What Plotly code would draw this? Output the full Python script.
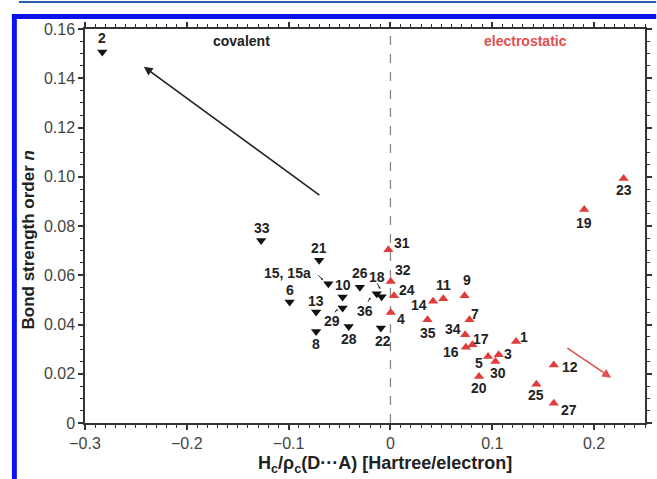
import plotly.graph_objects as go

# ---------------- data ----------------
cov_labels = ["2", "33", "21", "15, 15a", "6", "13", "8", "10", "29", "26", "28", "18", "36", "22"]
cov_x = [-0.283, -0.127, -0.070, -0.061, -0.099, -0.073, -0.073, -0.047, -0.047, -0.030, -0.041, -0.0135, -0.0087, -0.0094]
cov_y = [0.1507, 0.0741, 0.0661, 0.0565, 0.0491, 0.0451, 0.0372, 0.0512, 0.0467, 0.0551, 0.0392, 0.0525, 0.0513, 0.0386]

ele_labels = ["31", "32", "24", "4", "14", "11", "9", "7", "35", "34", "17", "16", "1", "5", "3", "30", "20", "12", "25", "27", "19", "23"]
ele_x = [-0.002, 0.0003, 0.0035, 0.0003, 0.0419, 0.0519, 0.0728, 0.0776, 0.0364, 0.0734, 0.0805, 0.0741, 0.1234, 0.0959, 0.1063, 0.1031, 0.0870, 0.1604, 0.1433, 0.1604, 0.1903, 0.2290]
ele_y = [0.0704, 0.0575, 0.0517, 0.0449, 0.0494, 0.0505, 0.0517, 0.0419, 0.0419, 0.0358, 0.0318, 0.0308, 0.0331, 0.0270, 0.0277, 0.0250, 0.0189, 0.0236, 0.0157, 0.0080, 0.0867, 0.0993]

x_ticks = [-0.3, -0.2, -0.1, 0, 0.1, 0.2]
x_ticktext = ["\u22120.3", "\u22120.2", "\u22120.1", "0", "0.1", "0.2"]
y_ticks = [0, 0.02, 0.04, 0.06, 0.08, 0.10, 0.12, 0.14, 0.16]
y_ticktext = ["0", "0.02", "0.04", "0.06", "0.08", "0.10", "0.12", "0.14", "0.16"]

# trend arrows (tail -> head), data units
cov_arrow_tail = (-0.0683, 0.0921)
cov_arrow_head = (-0.2422, 0.1447)
ele_arrow_tail = (0.1723, 0.0308)
ele_arrow_head = (0.2167, 0.0184)

# small pointer arrows (tail -> head), data units
small_arrows = [
    ((-0.0722, 0.0606), (-0.0662, 0.0580)),
    ((-0.0560, 0.0443), (-0.0518, 0.0463)),
    ((-0.0138, 0.0573), (-0.0100, 0.0544)),
    ((-0.0230, 0.0487), (-0.0196, 0.0510)),
]

# ---------------- label offsets (pixels: dx right, dy down) ----------------
label_offsets = {
    "2": (0, -14), "33": (1, -13), "21": (0, -12), "15, 15a": (-41, -11), "6": (0, -12),
    "13": (0, -11), "8": (0, 13), "10": (0, -12), "29": (-11, 13), "26": (0, -14),
    "28": (0, 13), "18": (0, -17), "36": (-17, 14), "22": (2, 13),
    "31": (14, -7), "32": (12, -11), "24": (13, -6), "4": (10, 7), "14": (-14, 4),
    "11": (0, -14), "9": (2, -16), "7": (6, -6), "35": (0, 13), "34": (-12, -6),
    "17": (9, -6), "16": (-15, 5), "1": (8, -4), "5": (-9, 6), "3": (9, -1),
    "30": (3, 12), "20": (0, 12), "12": (16, 2), "25": (0, 11), "27": (15, 7),
    "19": (0, 13), "23": (0, 12),
}

FONT = "Liberation Sans, Arial, Helvetica, sans-serif"
RED = "#e23b3b"
BLACK = "#111111"
AX = "#333333"

fig = go.Figure()
fig.add_trace(go.Scatter(
    x=cov_x, y=cov_y, mode="markers",
    marker=dict(symbol="triangle-down", size=9, color=BLACK),
    showlegend=False, hoverinfo="skip"))
fig.add_trace(go.Scatter(
    x=ele_x, y=ele_y, mode="markers",
    marker=dict(symbol="triangle-up", size=9, color=RED),
    showlegend=False, hoverinfo="skip"))

annotations = []
for labs, xs, ys in ((cov_labels, cov_x, cov_y), (ele_labels, ele_x, ele_y)):
    for lab, xv, yv in zip(labs, xs, ys):
        dx, dy = label_offsets[lab]
        annotations.append(dict(
            x=xv, y=yv, xref="x", yref="y", text="<b>%s</b>" % lab, showarrow=False,
            xshift=dx, yshift=-dy, font=dict(family=FONT, size=14, color="#222222")))

annotations.append(dict(
    x=cov_arrow_head[0], y=cov_arrow_head[1], ax=cov_arrow_tail[0], ay=cov_arrow_tail[1],
    xref="x", yref="y", axref="x", ayref="y", text="", showarrow=True,
    arrowhead=2, arrowsize=1.1, arrowwidth=1.6, arrowcolor="#222222"))
annotations.append(dict(
    x=ele_arrow_head[0], y=ele_arrow_head[1], ax=ele_arrow_tail[0], ay=ele_arrow_tail[1],
    xref="x", yref="y", axref="x", ayref="y", text="", showarrow=True,
    arrowhead=2, arrowsize=1.1, arrowwidth=1.6, arrowcolor="#e05050"))
for (tx, ty), (hx, hy) in small_arrows:
    annotations.append(dict(
        x=hx, y=hy, ax=tx, ay=ty, xref="x", yref="y", axref="x", ayref="y",
        text="", showarrow=True, arrowhead=2, arrowsize=0.45, arrowwidth=1,
        arrowcolor="#222222"))

annotations.append(dict(
    x=-0.1459, y=0.155, xref="x", yref="y", text="<b>covalent</b>", showarrow=False,
    font=dict(family=FONT, size=14, color="#222222")))
annotations.append(dict(
    x=0.133, y=0.155, xref="x", yref="y", text="<b>electrostatic</b>", showarrow=False,
    font=dict(family=FONT, size=14, color="#e05050")))

# axis titles
annotations.append(dict(
    x=0.536, y=-0.106, xref="paper", yref="paper", xanchor="center", yanchor="middle",
    text="<b>H<sub>c</sub>/\u03c1<sub>c</sub>(D\u00b7\u00b7\u00b7A) [Hartree/electron]</b>",
    showarrow=False, font=dict(family=FONT, size=18, color="#222222")))
annotations.append(dict(
    x=-0.1005, y=0.465, xref="paper", yref="paper", xanchor="center", yanchor="middle",
    text="<b>Bond strength order <i>n</i></b>", textangle=-90,
    showarrow=False, font=dict(family=FONT, size=17, color="#222222")))

shapes = [
    dict(type="line", xref="x", yref="y", x0=0, x1=0, y0=0, y1=0.16,
         line=dict(color="#888888", width=1.3, dash="dash"), layer="below"),
    # decorative page frame
    dict(type="rect", xref="paper", yref="paper", x0=-0.1305, x1=1.02, y0=1.0254, y1=1.0381,
         fillcolor="#0a10f0", line=dict(width=0)),
    dict(type="rect", xref="paper", yref="paper", x0=-0.1305, x1=-0.1217, y0=-0.16, y1=1.0381,
         fillcolor="#0a10f0", line=dict(width=0)),
    dict(type="rect", xref="paper", yref="paper", x0=-0.118, x1=1.02, y0=1.066, y1=1.0712,
         fillcolor="#2a5fb0", line=dict(width=0)),
]

axis_common = dict(
    showline=True, linecolor=AX, linewidth=1.5, mirror="ticks",
    ticks="outside", ticklen=5, tickwidth=1.5, tickcolor=AX,
    showgrid=False, zeroline=False,
    tickfont=dict(family=FONT, size=16, color="#444444"),
)

fig.update_layout(
    width=657, height=479,
    margin=dict(l=85, r=5, t=29, b=56),
    paper_bgcolor="white", plot_bgcolor="white",
    xaxis=dict(range=[-0.3, 0.25], tickvals=x_ticks, ticktext=x_ticktext,
               minor=dict(dtick=0.01, tick0=0, ticks="outside", ticklen=3, tickwidth=1, tickcolor=AX),
               **axis_common),
    yaxis=dict(range=[0, 0.16], tickvals=y_ticks, ticktext=y_ticktext,
               minor=dict(dtick=0.005, tick0=0, ticks="outside", ticklen=3, tickwidth=1, tickcolor=AX),
               **axis_common),
    annotations=annotations,
    shapes=shapes,
)

fig.write_html("out.html")
